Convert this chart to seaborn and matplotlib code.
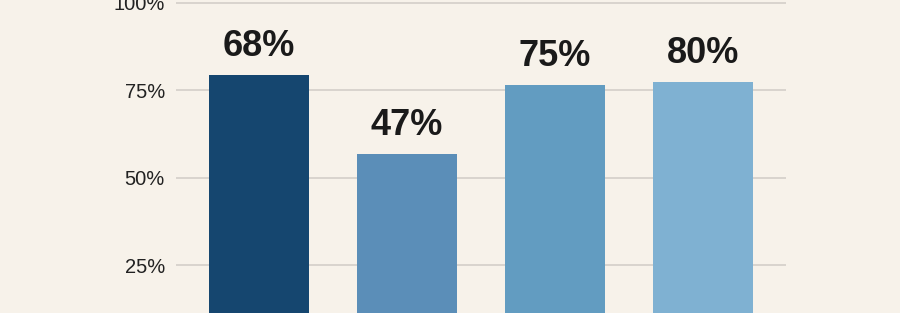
import matplotlib
matplotlib.use("Agg")
import matplotlib.pyplot as plt
import seaborn as sns
import pandas as pd

categories = ["A", "B", "C", "D"]
bar_values = [79.5, 56.8, 76.5, 77.5]
bar_labels = ["68%", "47%", "75%", "80%"]
colors = ["#15466f", "#5b8eb8", "#629cc1", "#7fb1d2"]
yticks = [25, 50, 75, 100]
ytick_labels = ["25%", "50%", "75%", "100%"]

sns.set_theme(style="white")
plt.rcParams["font.family"] = ["Liberation Sans", "DejaVu Sans"]

bg = "#f7f2ea"
fig = plt.figure(figsize=(9, 3.13), dpi=100, facecolor=bg)
ax = fig.add_axes([176 / 900, 0, 610 / 900, 1])
ax.set_facecolor(bg)

df = pd.DataFrame({"cat": categories, "val": bar_values})
sns.barplot(data=df, x="cat", y="val", hue="cat", palette=colors, legend=False,
            width=0.676, ax=ax, saturation=1, zorder=3)

for p in ax.patches:
    p.set_edgecolor("none")

for i, (v, lab) in enumerate(zip(bar_values, bar_labels)):
    ax.annotate(lab, (i, v), xytext=(0, 8), textcoords="offset points",
                ha="center", va="bottom", fontsize=26, fontweight="bold",
                color="#1a1a1a")

ax.set_ylim(11.4, 100.85)
ax.set_xlim(-0.56, 3.56)
ax.set_yticks(yticks)
ax.set_yticklabels(ytick_labels)
ax.tick_params(axis="y", length=0, pad=8, labelsize=14.5, labelcolor="#222222")
ax.set_xticks([])
ax.set_xlabel("")
ax.set_ylabel("")
ax.grid(axis="y", color="#d3cfc9", linewidth=1.2, zorder=0)
for s in ax.spines.values():
    s.set_visible(False)

fig.savefig("out.png", dpi=100, facecolor=bg)
